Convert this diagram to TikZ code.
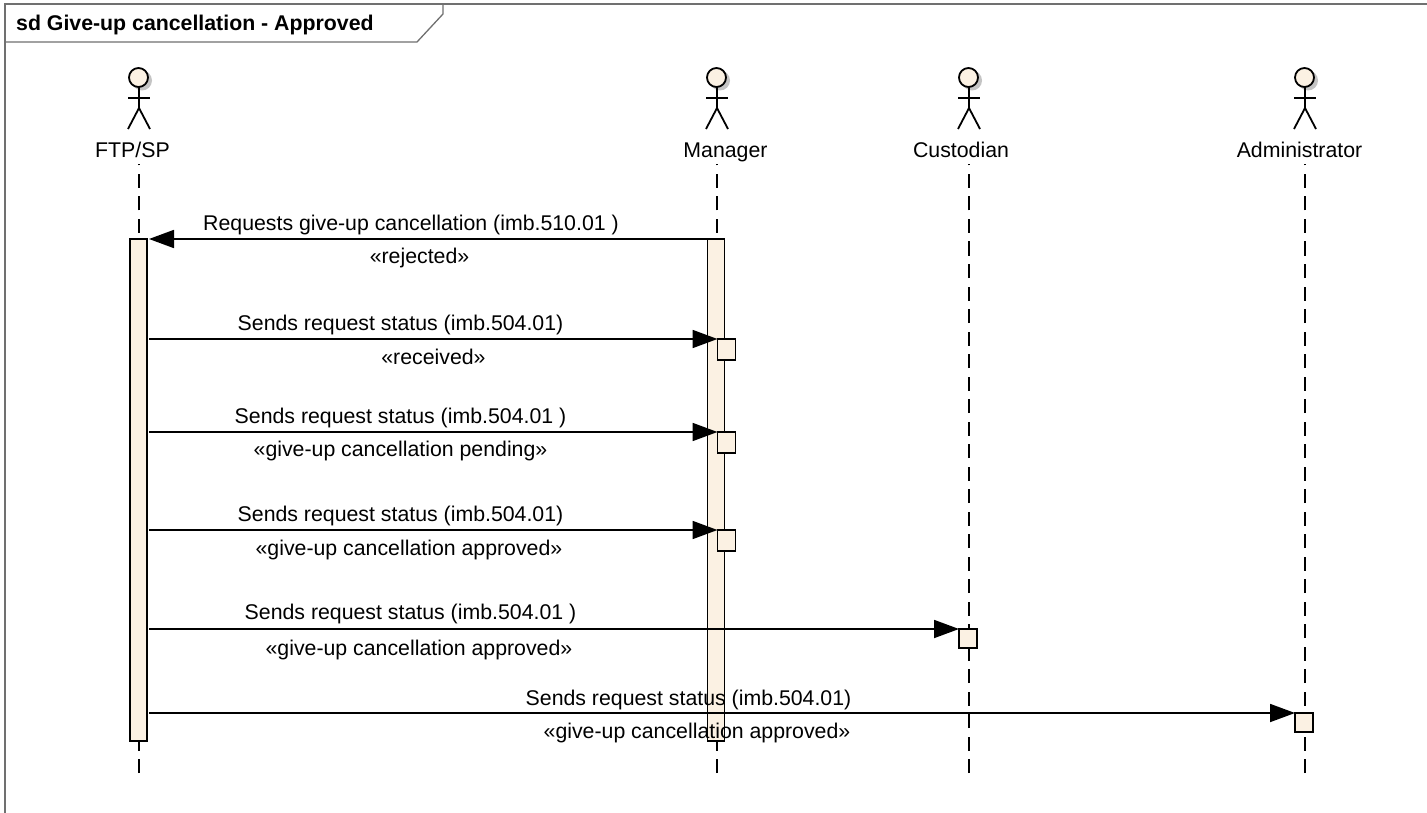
\documentclass[tikz,border=0pt]{standalone}
\usepackage{fontspec}
\setmainfont{Liberation Sans}
\usetikzlibrary{arrows.meta}
\definecolor{bodyfill}{HTML}{FBF1E3}
\definecolor{framegrey}{HTML}{707070}
\definecolor{shadowgrey}{HTML}{C4C4C4}
\tikzset{
  framestroke/.style={draw=framegrey,line width=1.3pt},
  lifeline/.style={draw=black,line width=1.8pt,dash pattern=on 14pt off 8.5pt},
  barbox/.style={draw=black,fill=bodyfill,line width=1.8pt,inner sep=0pt,outer sep=0pt,minimum width=17pt,anchor=north west},
  tickbox/.style={draw=black,fill=bodyfill,line width=1.8pt,inner sep=0pt,outer sep=0pt,minimum width=18pt,minimum height=19pt,anchor=north west},
  msg/.style={draw=black,line width=1.8pt,shorten <=2pt,-{Triangle[length=25pt,width=18pt]}},
  msgl/.style={draw=black,line width=1.8pt,shorten >=2pt,-{Triangle[length=25pt,width=18pt]}},
  lbl/.style={font=\fontsize{21.3}{24}\selectfont,text=black,inner sep=0pt,anchor=base},
  ttl/.style={font=\fontsize{21.3}{24}\selectfont\bfseries,text=black,inner sep=0pt,anchor=base west},
  headc/.style={circle,draw=black,fill=bodyfill,line width=1.8pt,minimum size=19pt,inner sep=0pt,outer sep=0pt},
  stick/.style={draw=black,line width=1.8pt},
}
\newcommand{\actorfig}[4]{% name, x, label, label x
  \fill[shadowgrey] (#2+3,80.5) circle (10);
  \node[headc] (#1head) at (#2-0.5,77.5) {};
  \coordinate (#1hip) at (#2,108);
  \draw[stick] (#1head.south -| #1hip) -- (#1hip);
  \coordinate (#1armL) at (#2-11,98);
  \coordinate (#1armR) at (#2+11,98);
  \draw[stick] (#1armL) -- (#1armR);
  \coordinate (#1legL) at (#2-11,129);
  \coordinate (#1legR) at (#2+11,129);
  \draw[stick] (#1legL) -- (#1hip) -- (#1legR);
  \node[lbl] (#1name) at (#4,158) {#3};
  \coordinate (#1top) at (#2,164);
  \coordinate (#1end) at (#2,773);
  \draw[lifeline] (#1end) -- (#1top);
}
\begin{document}
\begin{tikzpicture}[x=1pt,y=-1pt]
\useasboundingbox (0,0) rectangle (1427,813);
\fill[white] (0,0) rectangle (1427,813);
% frame
\coordinate (ftl) at (5,4);
\coordinate (ftr) at (1427,4);
\coordinate (fbl) at (5,813);
\coordinate (t1) at (5,42);
\coordinate (t2) at (417,42);
\coordinate (t3) at (443,14);
\coordinate (t4) at (443,4);
\draw[framestroke] (ftr) -- (ftl) -- (fbl);
\draw[framestroke] (t1) -- (t2) -- (t3) -- (t4);
\node[ttl] (title) at (16,30.5) {sd Give-up cancellation - Approved};
% actors
\actorfig{ftp}{139}{FTP/SP}{132.5}
\actorfig{mgr}{717}{Manager}{725.5}
\actorfig{cus}{969}{Custodian}{961}
\actorfig{adm}{1305}{Administrator}{1299.5}
% activation bars
\node[barbox,minimum height=502pt] (ftpbar) at (130,239) {};
\node[barbox,minimum height=502pt] (mgrbar) at (707.5,239) {};
% small execution boxes
\node[tickbox,minimum height=21pt] (b1) at (717.5,339) {};
\node[tickbox,minimum height=21pt] (b2) at (717.5,432) {};
\node[tickbox,minimum height=21pt] (b3) at (717.5,530) {};
\node[tickbox] (b4) at (959,629) {};
\node[tickbox] (b5) at (1295,713) {};
% messages
\draw[msgl] (mgrbar.north west) -- (ftpbar.north east);
\draw[msg] (ftpbar.east |- b1.north west) -- (b1.north west);
\draw[msg] (ftpbar.east |- b2.north west) -- (b2.north west);
\draw[msg] (ftpbar.east |- b3.north west) -- (b3.north west);
\draw[msg] (ftpbar.east |- b4.north west) -- (b4.north west);
\draw[msg] (ftpbar.east |- b5.north west) -- (b5.north west);
% labels
\node[lbl] (m0) at (411,230) {Requests give-up cancellation (imb.510.01 )};
\node[lbl] (s0) at (419.5,263) {«rejected»};
\node[lbl] (m1) at (400.5,330) {Sends request status (imb.504.01)};
\node[lbl] (s1) at (433.5,364) {«received»};
\node[lbl] (m2) at (400.5,423) {Sends request status (imb.504.01 )};
\node[lbl] (s2) at (400.5,456) {«give-up cancellation pending»};
\node[lbl] (m3) at (400.5,521.5) {Sends request status (imb.504.01)};
\node[lbl] (s3) at (409,555) {«give-up cancellation approved»};
\node[lbl] (m4) at (410.5,619) {Sends request status (imb.504.01 )};
\node[lbl] (s4) at (419,655) {«give-up cancellation approved»};
\node[lbl] (m5) at (688.5,705.5) {Sends request status (imb.504.01)};
\node[lbl] (s5) at (697,738) {«give-up cancellation approved»};
\end{tikzpicture}
\end{document}
